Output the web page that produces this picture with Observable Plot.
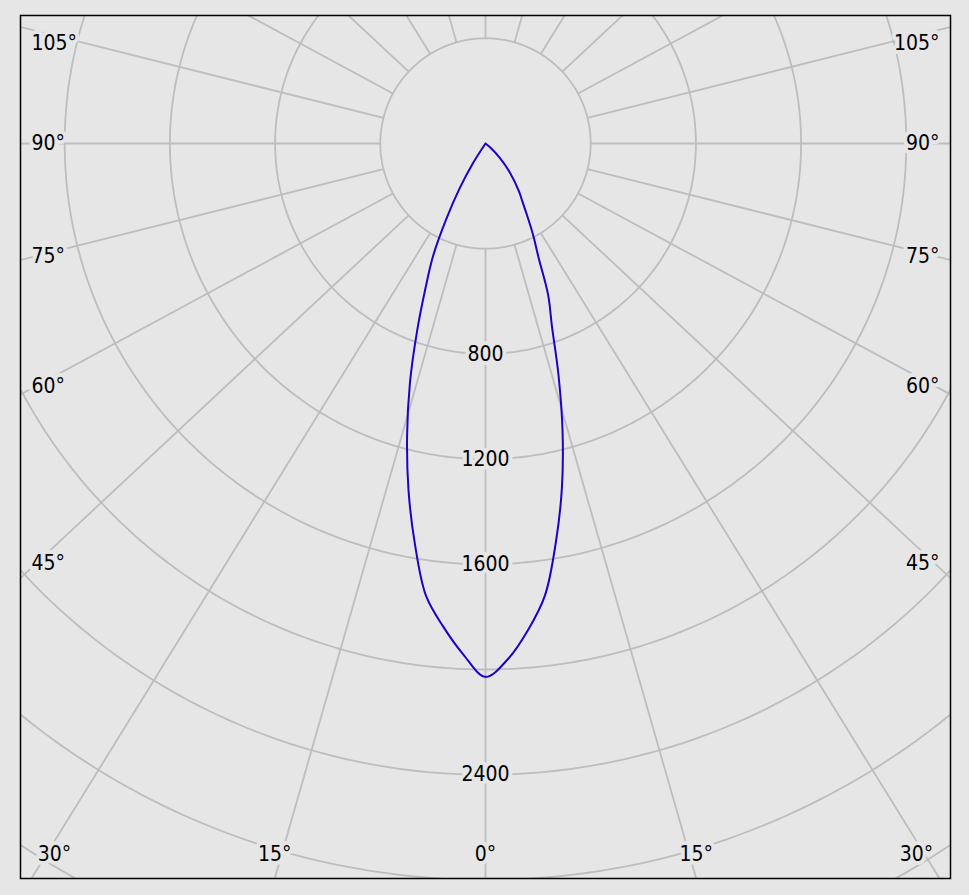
<!DOCTYPE html>
<html><head><meta charset="utf-8">
<script src="https://cdn.jsdelivr.net/npm/d3@7"></script>
<script src="https://cdn.jsdelivr.net/npm/@observablehq/plot@0.6"></script>
<style>
html,body{margin:0;padding:0;background:#e6e6e6;}
svg{display:block;}
</style></head><body><div id="chart"></div>
<script>
// ---- data ----
const curveAngles    = [0, 2.5, 5, 7.5, 10, 12.5, 15, 17.5, 20, 22.5, 25, 27.5, 30, 32.5, 35, 40, 45, 50, 55, 60, 90, 120, 150, 180];
const intensityRight = [2028, 1962, 1857, 1733, 1540, 1342, 1132, 923, 738, 622, 476, 392, 317, 261, 222, 144, 76, 25, 0, 0, 0, 0, 0, 0];
const intensityLeft  = [2028, 1944, 1844, 1734, 1546, 1352, 1152, 956, 762, 597, 471, 320, 196, 90, 0, 0, 0, 0, 0, 0, 0, 0, 0, 0];
const ringValues     = [400, 800, 1200, 1600, 2000, 2400, 2800, 3200];
const ringLabels     = [800, 1200, 1600, 2400];
const spokeAngles    = [0, 15, 30, 45, 60, 75, 90, 105, 120, 135, 150, 165, 180, 195, 210, 225, 240, 255, 270, 285, 300, 315, 330, 345];
const angleLabelValues = [0, 15, 30, 45, 60, 75, 90, 105];

// ---- layout ----
const W = 969, H = 895;
const FL = 20, FR = 950, FT = 15, FB = 878;   // frame
const CX = 485, CY = 143;                     // pole (pixels)
const K = 0.263;                              // pixels per cd
const STRETCH = 1.07;                         // spoke drawing aspect of the original tool
const BG = "#e6e6e6", GRID = "#bdbdbd";
const FONT = "'DejaVu Sans Condensed', 'DejaVu Sans', sans-serif";

const rad = d => d * Math.PI / 180;
const toX = px => (px - CX) / K;
const toY = py => (CY - py) / K;

// curve table (left half from 180° down to 0°, then right half 0° to 180°)
const curve = [];
for (let i = curveAngles.length - 1; i >= 0; i--) {
  const t = rad(curveAngles[i]), r = intensityLeft[i];
  curve.push({x: -r * Math.sin(t), y: -r * Math.cos(t)});
}
for (let i = 1; i < curveAngles.length; i++) {
  const t = rad(curveAngles[i]), r = intensityRight[i];
  curve.push({x: r * Math.sin(t), y: -r * Math.cos(t)});
}

// rings
const ringPts = [];
for (const r of ringValues) for (let a = 0; a <= 360; a += 1)
  ringPts.push({ring: r, x: r * Math.sin(rad(a)), y: -r * Math.cos(rad(a))});

// spokes
function spokeDir(a) {
  const s = STRETCH * Math.sin(rad(a)), c = Math.cos(rad(a));
  const n = Math.hypot(s, c);
  return [s / n, c / n];
}
const spokes = spokeAngles.map(a => {
  const [s, c] = spokeDir(a);
  return {x1: 400 * s, y1: -400 * c, x2: 8000 * s, y2: -8000 * c};
});

// angle labels
const clamp = (v, lo, hi) => Math.max(lo, Math.min(hi, v));
const leftLab = [], rightLab = [], bottomLab = [];
for (const a of angleLabelValues) {
  for (const side of (a === 0 ? [1] : [-1, 1])) {
    const [s, c] = spokeDir(a);
    const dx = side * s, dy = c;
    const tx = Math.abs(dx) > 1e-9 ? (side < 0 ? CX - FL : FR - CX) / Math.abs(dx) : Infinity;
    const tb = dy > 1e-9 ? (FB - CY) / dy : Infinity;
    const tt = dy < -1e-9 ? (CY - FT) / -dy : Infinity;
    if (tt < Math.min(tx, tb)) continue;
    const label = a + "°";
    if (tb <= tx) {
      const px = clamp(CX + dx * tb, FL + 34, FR - 34);
      bottomLab.push({x: toX(px), y: toY(854), label});
    } else {
      const py = clamp(CY + dy * ((CX - FL - 16) / Math.abs(dx)), 43, 854);
      if (side < 0) leftLab.push({x: toX(FL + 11), y: toY(py), label});
      else rightLab.push({x: toX(FR - 11), y: toY(py), label});
    }
  }
}

const textOpts = {fill: "black", stroke: BG, strokeWidth: 8, fontSize: 21, fontFamily: FONT};

const chart = Plot.plot({
  width: W, height: H,
  marginLeft: FL, marginRight: W - FR, marginTop: FT, marginBottom: H - FB,
  x: {domain: [toX(FL), toX(FR)], axis: null},
  y: {domain: [toY(FB), toY(FT)], axis: null},
  style: {background: BG, fontFamily: FONT},
  marks: [
    Plot.line(ringPts, {x: "x", y: "y", z: "ring", stroke: GRID, strokeWidth: 1.8, clip: true}),
    Plot.link(spokes, {x1: "x1", y1: "y1", x2: "x2", y2: "y2", stroke: GRID, strokeWidth: 1.8, clip: true}),
    Plot.line(curve, {x: "x", y: "y", stroke: "#1e00c8", strokeWidth: 2, curve: "catmull-rom"}),
    Plot.text(ringLabels, {x: () => 0, y: d => -d, text: d => String(d), ...textOpts}),
    Plot.text(leftLab, {x: "x", y: "y", text: "label", textAnchor: "start", ...textOpts}),
    Plot.text(rightLab, {x: "x", y: "y", text: "label", textAnchor: "end", ...textOpts}),
    Plot.text(bottomLab, {x: "x", y: "y", text: "label", textAnchor: "middle", ...textOpts}),
    Plot.frame({stroke: "black", strokeWidth: 1.5})
  ]
});
document.getElementById("chart").appendChild(chart);
</script>
</body></html>
